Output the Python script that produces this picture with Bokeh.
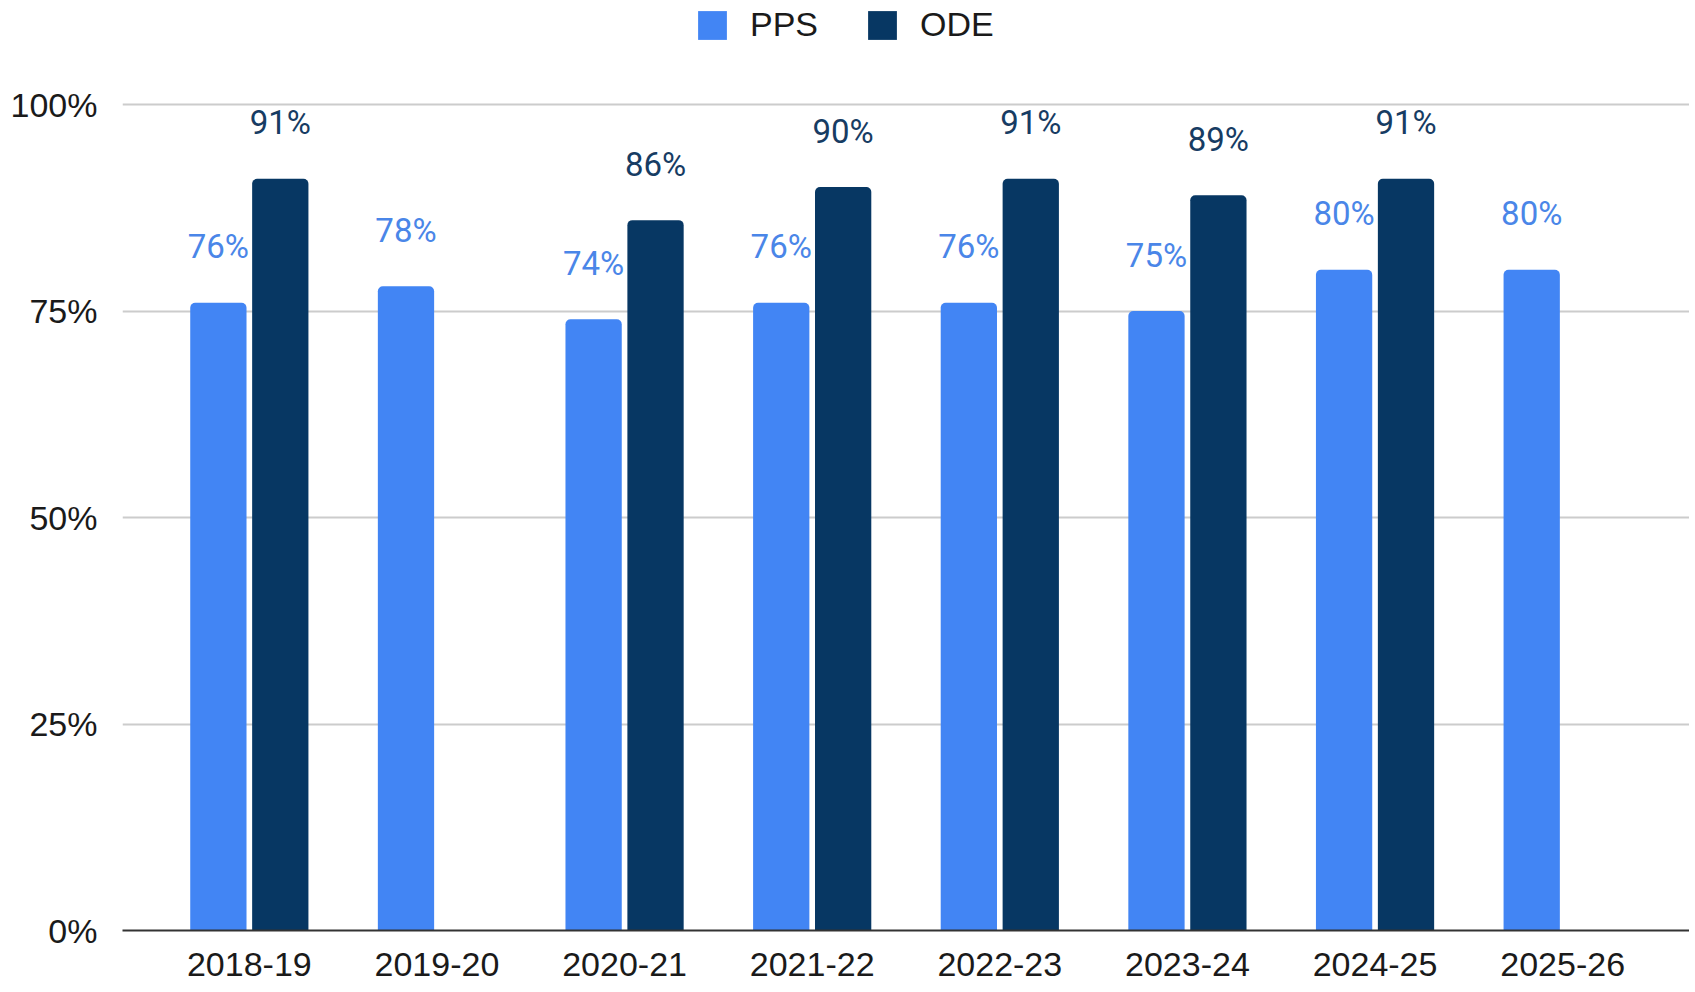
from bokeh.plotting import figure
from bokeh.models import (ColumnDataSource, FactorRange, FixedTicker, Legend, LegendItem,
                          CustomJSTickFormatter, Range1d)
from bokeh.transform import dodge
from bokeh.core.properties import value
from bokeh.embed import file_html
from bokeh.resources import INLINE

years = ["2018-19", "2019-20", "2020-21", "2021-22", "2022-23", "2023-24", "2024-25", "2025-26"]
pps = [76, 78, 74, 76, 76, 75, 80, 80]
ode = [91, None, 86, 90, 91, 89, 91, None]
y_ticks = [0, 25, 50, 75, 100]

PPS_COLOR = "#4285F4"
ODE_COLOR = "#073763"

def make_source(vals):
    xs = [y for y, v in zip(years, vals) if v is not None]
    vs = [v / 100 for v in vals if v is not None]
    labels = [f"{v}%" for v in vals if v is not None]
    return ColumnDataSource(dict(x=xs, v=vs, label=labels))

src_pps = make_source(pps)
src_ode = make_source(ode)

frame_h = 930
top_px = 104  # distance from frame top to the 100% line
y_end = frame_h / (frame_h - top_px)

p = figure(x_range=FactorRange(*years, range_padding=0.176, range_padding_units="absolute"),
           y_range=Range1d(0, y_end),
           frame_width=1567, frame_height=frame_h,
           min_border_left=122, min_border_right=0, min_border_top=0, min_border_bottom=61,
           output_backend="svg", toolbar_location=None, outline_line_color=None)

r_pps = p.vbar(x=dodge("x", -0.165, range=p.x_range), top="v", width=0.3, source=src_pps,
               fill_color=PPS_COLOR, line_color=None, border_radius=(5, 5, 0, 0))
r_ode = p.vbar(x=dodge("x", 0.165, range=p.x_range), top="v", width=0.3, source=src_ode,
               fill_color=ODE_COLOR, line_color=None, border_radius=(5, 5, 0, 0))

p.text(x=dodge("x", -0.165, range=p.x_range), y="v", text="label", source=src_pps,
       text_align="center", text_baseline="middle", y_offset=-56,
       text_font=value("Roboto"), text_font_size="33px", text_color="#4a86e8")
p.text(x=dodge("x", 0.165, range=p.x_range), y="v", text="label", source=src_ode,
       text_align="center", text_baseline="middle", y_offset=-56,
       text_font=value("Roboto"), text_font_size="33px", text_color="#173c63")

# axes
p.yaxis.ticker = FixedTicker(ticks=[t / 100 for t in y_ticks])
p.yaxis.formatter = CustomJSTickFormatter(code="return Math.round(tick*100) + '%';")
p.yaxis.axis_line_color = None
p.yaxis.major_tick_line_color = None
p.yaxis.minor_tick_line_color = None
p.yaxis.major_label_text_font = "Liberation Sans"
p.yaxis.major_label_text_font_size = "34px"
p.yaxis.major_label_text_color = "#1a1a1a"
p.yaxis.major_label_standoff = 19

p.xaxis.axis_line_color = "#333333"
p.xaxis.axis_line_width = 2
p.xaxis.major_tick_line_color = None
p.xaxis.minor_tick_line_color = None
p.xaxis.major_label_text_font = "Liberation Sans"
p.xaxis.major_label_text_font_size = "34px"
p.xaxis.major_label_text_color = "#1a1a1a"
p.xaxis.major_label_standoff = 16

p.xgrid.grid_line_color = None
p.ygrid.grid_line_color = "#cccccc"
p.ygrid.grid_line_width = 2
p.ygrid.ticker = FixedTicker(ticks=[t / 100 for t in y_ticks[1:]])

legend = Legend(items=[LegendItem(label="PPS", renderers=[r_pps]),
                       LegendItem(label="ODE", renderers=[r_ode])],
                orientation="horizontal", location=(572, frame_h - 44),
                glyph_width=36, glyph_height=36, label_height=36,
                label_standoff=20, spacing=46, padding=0, margin=0,
                label_text_font="Liberation Sans", label_text_font_size="34px",
                label_text_color="#1a1a1a", label_text_baseline="middle",
                border_line_color=None, background_fill_alpha=0)
p.add_layout(legend, "center")

open("out.html", "w").write(file_html(p, INLINE))
